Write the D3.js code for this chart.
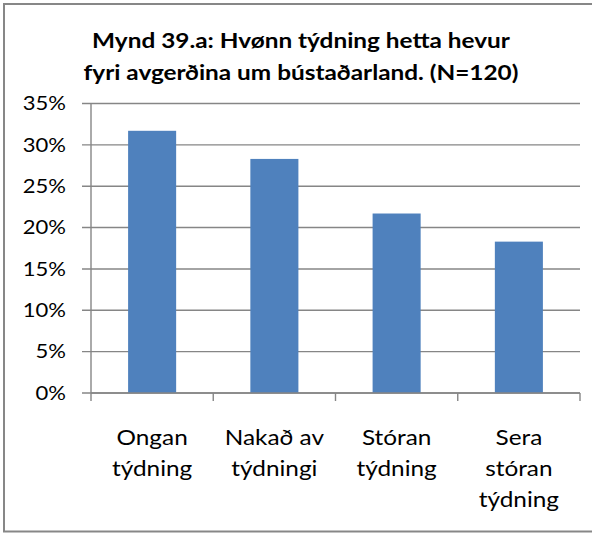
<!DOCTYPE html>
<html>
<head>
<meta charset="utf-8">
<script src="https://cdn.jsdelivr.net/npm/d3@7"></script>
<style>
  html, body { margin: 0; padding: 0; background: #fff; }
  svg { display: block; }
  text { font-family: Lato, "Open Sans", sans-serif; fill: #000; }
</style>
</head>
<body>
<svg id="chart" width="592" height="533"></svg>
<script>
// Chart data
const titleLines = ["Mynd 39.a: Hvønn týdning hetta hevur", "fyri avgerðina um bústaðarland. (N=120)"];
const categories = ["Ongan\ntýdning", "Nakað av\ntýdningi", "Stóran\ntýdning", "Sera\nstóran\ntýdning"];
const values = [31.7, 28.3, 21.7, 18.3]; // percent of respondents
const yTicks = [0, 5, 10, 15, 20, 25, 30, 35];

const svg = d3.select("#chart");
const W = 592;
const plot = { left: 91, right: 580, top: 103.5, bottom: 393 };
const gridColor = "#868686";
const sx = 1.16; // horizontal text stretch (wide glyph set)

// Outer frame
svg.append("rect")
  .attr("x", 4).attr("y", 4)
  .attr("width", W).attr("height", 527.5)
  .attr("fill", "#fff")
  .attr("stroke", "#878787")
  .attr("stroke-width", 2);

// Title
svg.append("g").selectAll("text")
  .data(titleLines)
  .join("text")
  .attr("transform", (d, i) => `translate(301,${48 + i * 32}) scale(${sx},1)`)
  .attr("text-anchor", "middle")
  .attr("font-size", 21)
  .attr("font-weight", "bold")
  .text(d => d);

// Scales
const y = d3.scaleLinear().domain([0, 35]).range([plot.bottom, plot.top]);
const x = d3.scaleBand()
  .domain(categories)
  .range([plot.left, plot.right])
  .paddingInner(0.607)
  .paddingOuter(0.3035);

// Horizontal gridlines (extend left as tick marks)
svg.append("g").selectAll("line")
  .data(yTicks)
  .join("line")
  .attr("x1", plot.left - 9)
  .attr("x2", plot.right)
  .attr("y1", d => y(d))
  .attr("y2", d => y(d))
  .attr("stroke", gridColor)
  .attr("stroke-width", 1.4);

// Y axis line
svg.append("line")
  .attr("x1", plot.left).attr("x2", plot.left)
  .attr("y1", plot.top).attr("y2", plot.bottom)
  .attr("stroke", gridColor).attr("stroke-width", 1.4);

// Y tick labels
svg.append("g").selectAll("text")
  .data(yTicks)
  .join("text")
  .attr("transform", d => `translate(66,${y(d)}) scale(${sx},1)`)
  .attr("dy", "0.36em")
  .attr("text-anchor", "end")
  .attr("font-size", 19)
  .text(d => d + "%");

// Bars
svg.append("g").selectAll("rect")
  .data(values)
  .join("rect")
  .attr("x", (d, i) => x(categories[i]))
  .attr("y", d => y(d))
  .attr("width", x.bandwidth())
  .attr("height", d => y(0) - y(d))
  .attr("fill", "#4F81BD");

// X axis with category boundary ticks
const step = x.step();
const gap = step - x.bandwidth();
const bounds = categories.map(c => x(c) - gap / 2).concat([x(categories[categories.length - 1]) + x.bandwidth() + gap / 2]);
svg.append("line")
  .attr("x1", plot.left).attr("x2", plot.right)
  .attr("y1", plot.bottom).attr("y2", plot.bottom)
  .attr("stroke", gridColor).attr("stroke-width", 1.4);
svg.append("g").selectAll("line")
  .data(bounds)
  .join("line")
  .attr("x1", d => d).attr("x2", d => d)
  .attr("y1", plot.bottom).attr("y2", plot.bottom + 8)
  .attr("stroke", gridColor).attr("stroke-width", 1.4);

// Category labels (multi-line)
const labels = svg.append("g").selectAll("text")
  .data(categories)
  .join("text")
  .attr("text-anchor", "middle")
  .attr("font-size", 21)
  .attr("transform", d => `translate(${x(d) + x.bandwidth() / 2},444.5) scale(${sx},1)`);
labels.selectAll("tspan")
  .data(d => d.split("\n"))
  .join("tspan")
  .attr("x", 0)
  .attr("dy", (d, i) => i === 0 ? 0 : 31.5)
  .text(d => d);
</script>
</body>
</html>
